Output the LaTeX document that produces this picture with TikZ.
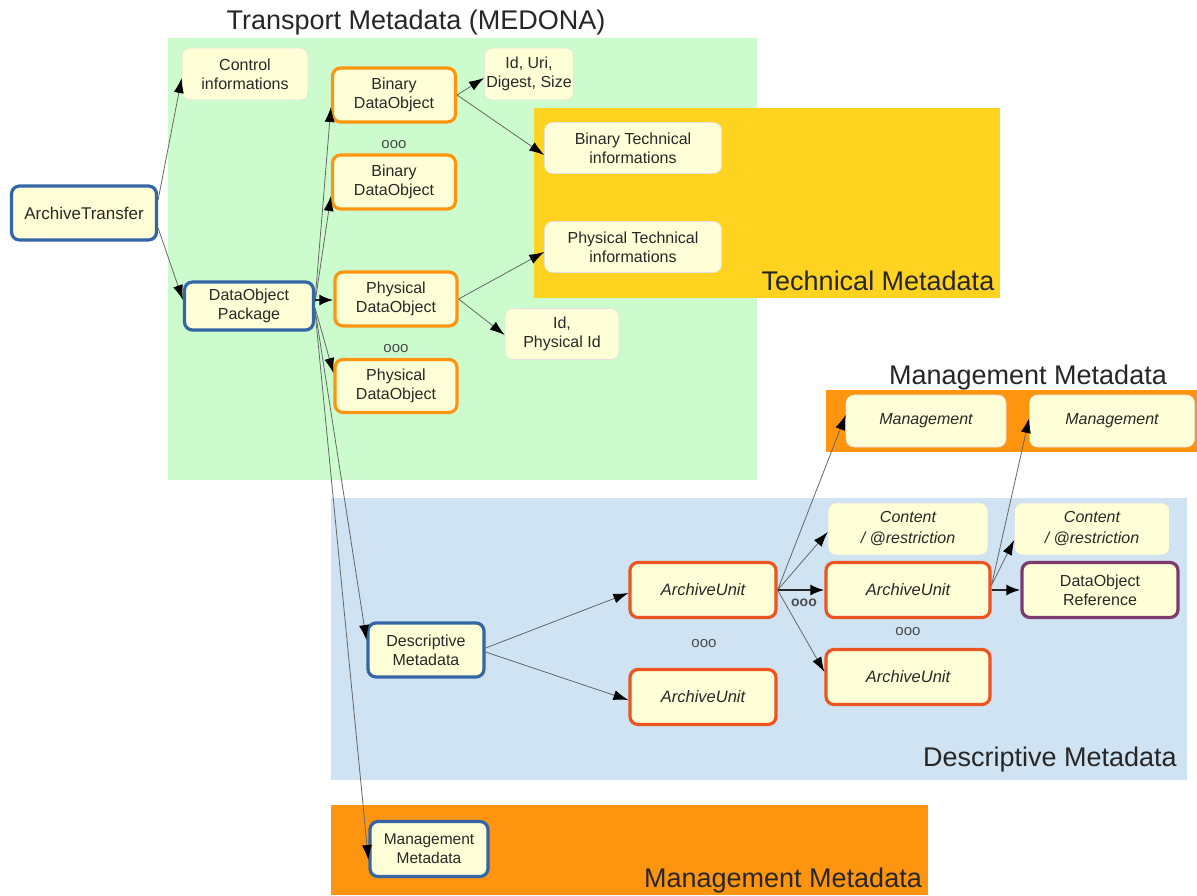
\documentclass[tikz,border=0pt]{standalone}
\usepackage{fontspec}
\setmainfont{Liberation Sans}
\usetikzlibrary{arrows.meta}
\definecolor{bggreen}{RGB}{204,252,206}
\definecolor{bgyellow}{RGB}{255,211,32}
\definecolor{bgorange}{RGB}{255,149,14}
\definecolor{bgblue}{RGB}{207,227,243}
\definecolor{cream}{RGB}{255,255,215}
\definecolor{bblue}{RGB}{52,101,164}
\definecolor{borange}{RGB}{255,149,14}
\definecolor{bred}{RGB}{236,84,34}
\definecolor{bpurple}{RGB}{125,58,110}
\definecolor{txt}{RGB}{40,40,40}
\begin{document}
\begin{tikzpicture}[x=1pt,y=-1pt,
  basebox/.style={rounded corners=8pt, fill=cream, align=center, text=txt, inner sep=2pt,
    font=\fontsize{16}{19}\selectfont},
  plainbox/.style={basebox, draw=black!12, line width=0.6pt},
  bluebox/.style={basebox, draw=bblue, line width=3.2pt},
  orgbox/.style={basebox, draw=borange, line width=3.2pt},
  redbox/.style={basebox, draw=bred, line width=3.2pt, font=\fontsize{16.5}{19}\selectfont\itshape},
  purplebox/.style={basebox, draw=bpurple, line width=3.2pt},
  edge/.style={draw=black!60, line width=0.8pt, -{Latex[length=15pt,width=10pt,black]}},
  thick edge/.style={draw=black!85, line width=2.4pt, -{Latex[length=14pt,width=11pt,black]}},
  title/.style={font=\fontsize{27}{30}\selectfont, text=black!85, inner sep=0pt},
  dots/.style={font=\fontsize{15}{15}\selectfont, text=black!70, inner sep=0pt}
]
\useasboundingbox (0,0) rectangle (1197,895);
% backgrounds
\fill[bggreen] (168,38) rectangle (757,480);
\fill[bgyellow] (534,108) rectangle (1000,298);
\fill[bgorange] (826,390) rectangle (1197,452);
\fill[bgblue] (331,498) rectangle (1187,780);
\fill[bgorange] (331,805) rectangle (928,895);
% titles
\node[title] (t1) at (416,23) {Transport Metadata (MEDONA)};
\node[title] (t2) at (878,281) {Technical Metadata};
\node[title] (t3) at (1028,378) {Management Metadata};
\node[title] (t4) at (1050,760) {Descriptive Metadata};
\node[title] (t5) at (783,881) {Management Metadata};
% nodes
\node[bluebox, minimum width=145pt, minimum height=54pt, font=\fontsize{17}{19}\selectfont] (AT) at (84,213) {ArchiveTransfer};
\node[plainbox, minimum width=126pt, minimum height=52pt] (CI) at (245,74) {Control\\informations};
\node[orgbox, minimum width=123pt, minimum height=54pt] (BDO1) at (394,95) {Binary\\DataObject};
\node[dots] (d1) at (394,145) {ooo};
\node[orgbox, minimum width=123pt, minimum height=54pt] (BDO2) at (394,182) {Binary\\DataObject};
\node[plainbox, minimum width=86pt, minimum height=52pt] (IU) at (529,74) {Id, Uri,\\Digest, Size};
\node[plainbox, minimum width=177pt, minimum height=51pt] (BTI) at (633,148) {Binary Technical\\informations};
\node[plainbox, minimum width=177pt, minimum height=51pt] (PTI) at (633,247) {Physical Technical\\informations};
\node[bluebox, minimum width=129pt, minimum height=48pt] (DOP) at (249,306) {DataObject\\Package};
\node[orgbox, minimum width=122pt, minimum height=54pt] (PDO1) at (396,299) {Physical\\DataObject};
\node[plainbox, minimum width=114pt, minimum height=51pt] (IP) at (562,334) {Id,\\Physical Id};
\node[dots] (d2) at (396,349) {ooo};
\node[orgbox, minimum width=122pt, minimum height=53pt] (PDO2) at (396,386) {Physical\\DataObject};
\node[plainbox, minimum width=160pt, minimum height=52pt, font=\fontsize{16}{19}\selectfont\itshape] (M1) at (926,421) {Management};
\node[plainbox, minimum width=165pt, minimum height=52pt, font=\fontsize{16}{19}\selectfont\itshape] (M2) at (1112,421) {Management};
\node[plainbox, minimum width=160pt, minimum height=52pt, font=\fontsize{16}{21}\selectfont\itshape] (C1) at (908,529) {Content\\/ @restriction};
\node[plainbox, minimum width=155pt, minimum height=52pt, font=\fontsize{16}{21}\selectfont\itshape] (C2) at (1092,529) {Content\\/ @restriction};
\node[redbox, minimum width=146pt, minimum height=55pt] (AUA) at (703,590) {ArchiveUnit};
\node[redbox, minimum width=164pt, minimum height=55pt] (AUB) at (908,590) {ArchiveUnit};
\node[purplebox, minimum width=156pt, minimum height=55pt] (DOR) at (1100,590) {DataObject\\Reference};
\node[dots, font=\fontsize{14}{14}\selectfont\bfseries] (d3) at (804,603) {ooo};
\node[dots] (d4) at (704,644) {ooo};
\node[dots] (d5) at (908,632) {ooo};
\node[bluebox, minimum width=116pt, minimum height=54pt] (DM) at (426,650) {Descriptive\\Metadata};
\node[redbox, minimum width=146pt, minimum height=55pt] (AUC) at (703,697) {ArchiveUnit};
\node[redbox, minimum width=164pt, minimum height=55pt] (AUD) at (908,677) {ArchiveUnit};
\node[bluebox, minimum width=118pt, minimum height=55pt, inner sep=0pt, font=\fontsize{15.5}{19}\selectfont] (MM) at (429,849) {Management\\Metadata};
% edges
\draw[edge] ([yshift=13pt]AT.east) -- ([yshift=-4pt]CI.west);
\draw[edge] ([yshift=-15pt]AT.east) -- ([yshift=6pt]DOP.west);
\draw[edge] ([yshift=6pt]DOP.east) -- ([yshift=-12pt]BDO1.west);
\draw[edge] ([yshift=4pt]DOP.east) -- ([yshift=-14pt]BDO2.west);
\draw[thick edge] ([yshift=6pt]DOP.east) -- ([yshift=-1pt]PDO1.west);
\draw[edge] ([yshift=-2pt]DOP.east) -- ([yshift=13pt]PDO2.west);
\draw[edge] ([yshift=-4pt]DOP.east) -- ([yshift=10pt]DM.west);
\draw[edge] ([yshift=-6pt]DOP.east) -- ([yshift=-11pt]MM.west);
\draw[edge] (BDO1.east) -- ([yshift=-4pt]IU.west);
\draw[edge] (BDO1.east) -- ([yshift=-7pt]BTI.west);
\draw[edge] (PDO1.east) -- ([yshift=-5pt]PTI.west);
\draw[edge] (PDO1.east) -- ([yshift=-1pt]IP.west);
\draw[edge] ([yshift=2pt]DM.east) -- ([yshift=-3pt]AUA.west);
\draw[edge] ([yshift=-2pt]DM.east) -- ([yshift=-3pt]AUC.west);
\draw[edge] (AUA.east) -- ([yshift=6pt]M1.west);
\draw[edge] (AUA.east) -- ([yshift=-3pt]C1.west);
\draw[thick edge] (AUA.east) -- (AUB.west);
\draw[edge] (AUA.east) -- ([yshift=5pt]AUD.west);
\draw[edge] ([yshift=5pt]AUB.east) -- ([yshift=3pt]M2.west);
\draw[edge] ([yshift=5pt]AUB.east) -- ([yshift=-11pt]C2.west);
\draw[thick edge] (AUB.east) -- (DOR.west);
\end{tikzpicture}
\end{document}
